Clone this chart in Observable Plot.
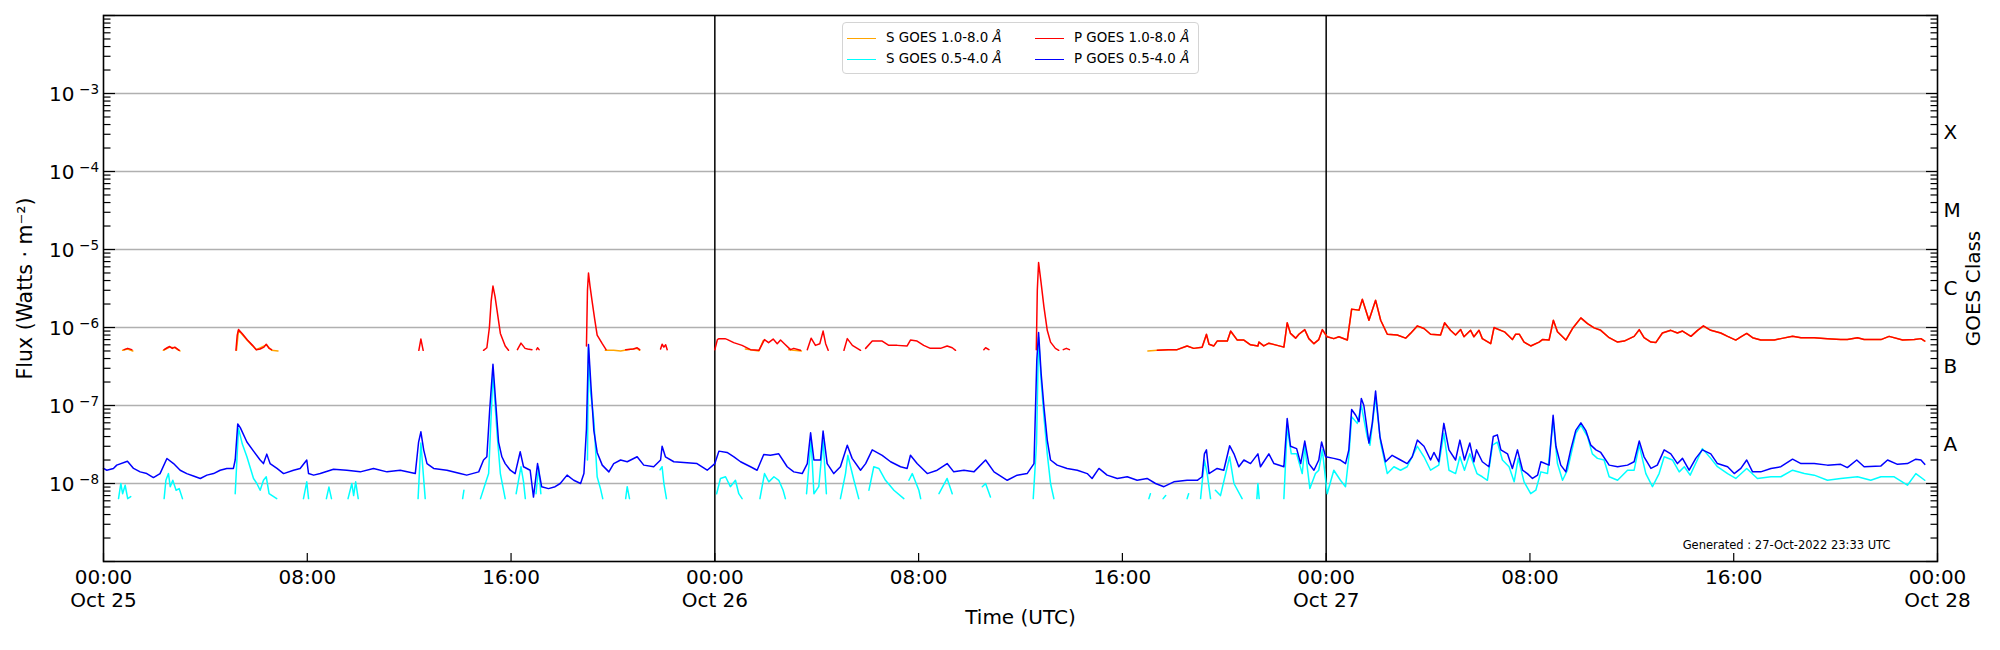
<!DOCTYPE html>
<html>
<head>
<meta charset="utf-8">
<script src="https://cdn.jsdelivr.net/npm/d3@7"></script>
<script src="https://cdn.jsdelivr.net/npm/@observablehq/plot@0.6"></script>
<style>
  body { margin: 0; background: #fff; }
  #wrap { position: relative; width: 2000px; height: 650px; font-family: "DejaVu Sans", sans-serif; }
  #legend { position: absolute; left: 842px; top: 22px; width: 357px; height: 52px; box-sizing: border-box;
            border: 1px solid #d4d4d4; border-radius: 4px; background: rgba(255,255,255,0.85); font-size: 13.4px; color: #000; }
  .item { position: absolute; height: 16px; line-height: 16px; white-space: nowrap; }
  .item .sw { position: absolute; left: 0; top: 7.5px; width: 29px; height: 0; border-top: 1.5px solid; }
  .item .lb { position: absolute; left: 39px; top: 0; }
</style>
</head>
<body>
<div id="wrap">
  <div id="chart"></div>
  <div id="legend"></div>
</div>
<script>
// ---------- data (hours after 2022-10-25 00:00 UTC, flux in W m^-2; NaN = data gap) ----------
const pLongH = [0.81,0.95,1.11,1.2, 2.38,2.5,2.6,2.7,2.8,2.97,3.0,
  5.2,5.25,5.3,5.45,5.65,5.85,6.0,6.15,6.3,6.39,6.5,6.6,6.7,
  12.38,12.46,12.55,12.6,
  14.92,15.05,15.15,15.22,15.29,15.37,15.45,15.58,15.77,15.9,16.0,
  16.25,16.39,16.55,16.65,16.82,16.9,17.0,17.04,17.1,17.2,
  18.96,19.0,19.04,19.1,19.18,19.28,19.38,19.58,19.73,19.8,
  20.5,20.8,20.95,21.05,21.1,
  21.87,21.93,22.0,22.07,22.13,22.2,
  24.0,24.1,24.16,24.4,24.5,24.74,25.07,25.4,25.73,25.95,26.11,26.29,26.45,26.58,26.73,26.97,27.1,27.36,27.5,
  27.63,27.78,27.95,28.12,28.25,28.35,28.45,28.6,
  29.07,29.2,29.4,29.72,29.8,
  29.92,30.18,30.57,30.83,31.16,31.55,31.68,31.94,32.2,32.46,32.86,33.12,33.32,33.45,33.6,
  34.56,34.63,34.76,34.9,
  36.62,36.66,36.71,36.81,36.92,37.05,37.18,37.37,37.5,37.6,37.68,37.8,37.92,38.0,
  41.37,41.8,42.15,42.54,42.8,43.13,43.3,43.4,43.59,43.72,44.12,44.25,44.51,44.77,45.03,45.32,45.36,45.55,45.75,46.08,46.34,
  46.47,46.6,46.8,46.93,47.16,47.32,47.52,47.71,47.85,48.04,48.3,48.5,48.83,49.0,49.29,49.42,49.68,49.94,50.14,50.4,50.79,
  51.12,51.31,51.58,51.84,52.1,52.49,52.65,52.88,53.08,53.28,53.41,53.67,53.8,54.0,54.13,54.46,54.59,54.85,
  55.0,55.31,55.44,55.58,55.77,56.03,56.36,56.49,56.75,56.92,57.08,57.41,57.67,58.0,58.26,58.52,58.78,59.11,59.44,59.7,
  60.09,60.29,60.48,60.75,60.94,61.2,61.53,61.79,61.99,62.32,62.58,62.81,63.1,63.49,63.76,64.08,64.28,64.51,64.74,65.06,
  65.59,65.85,66.31,66.64,67.16,67.68,68.2,68.46,68.86,69.12,69.78,70.1,70.63,71.09,71.35,71.5];
const pLongF = [5.2e-7,5.4e-7,5.2e-7,NaN, 5.2e-7,5.5e-7,5.7e-7,5.4e-7,5.6e-7,5.1e-7,NaN,
  5.1e-7,8.0e-7,9.4e-7,8.3e-7,6.9e-7,5.9e-7,5.2e-7,5.3e-7,5.6e-7,6.1e-7,5.4e-7,5.2e-7,NaN,
  5.1e-7,7.1e-7,5.1e-7,NaN,
  5.1e-7,5.5e-7,1.0e-6,2.2e-6,3.4e-6,2.5e-6,1.66e-6,8.4e-7,5.8e-7,5.1e-7,NaN,
  5.2e-7,6.3e-7,5.4e-7,5.3e-7,5.2e-7,NaN,5.2e-7,5.5e-7,5.2e-7,NaN,
  5.8e-7,3.0e-6,5.0e-6,3.4e-6,2.2e-6,1.3e-6,8.0e-7,6.2e-7,5.2e-7,NaN,
  5.2e-7,5.3e-7,5.5e-7,5.2e-7,NaN,
  5.3e-7,6.1e-7,5.6e-7,6.0e-7,5.2e-7,NaN,
  5.2e-7,7.0e-7,7.2e-7,7.2e-7,7.0e-7,6.4e-7,5.9e-7,5.2e-7,5.1e-7,7.0e-7,6.4e-7,7.1e-7,6.2e-7,6.9e-7,6.2e-7,5.2e-7,5.4e-7,5.1e-7,NaN,
  5.2e-7,7.3e-7,5.9e-7,6.2e-7,9.0e-7,6.2e-7,5.1e-7,NaN,
  5.1e-7,7.2e-7,5.9e-7,5.1e-7,NaN,
  5.4e-7,6.7e-7,6.7e-7,5.9e-7,5.9e-7,5.8e-7,6.9e-7,6.7e-7,5.9e-7,5.4e-7,5.4e-7,5.8e-7,5.5e-7,5.1e-7,NaN,
  5.2e-7,5.5e-7,5.2e-7,NaN,
  5.2e-7,3.0e-6,6.8e-6,3.7e-6,1.84e-6,9.2e-7,6.5e-7,5.4e-7,5.1e-7,NaN,5.2e-7,5.4e-7,5.2e-7,NaN,
  5.1e-7,5.2e-7,5.2e-7,5.8e-7,5.4e-7,5.6e-7,8.2e-7,6.1e-7,5.8e-7,6.7e-7,6.7e-7,9.0e-7,6.9e-7,6.9e-7,6.0e-7,5.8e-7,6.5e-7,5.8e-7,6.3e-7,5.9e-7,5.6e-7,
  1.15e-6,8.4e-7,7.3e-7,8.2e-7,9.4e-7,7.2e-7,6.2e-7,7.0e-7,9.4e-7,7.6e-7,7.2e-7,7.6e-7,6.9e-7,1.72e-6,1.67e-6,2.3e-6,1.24e-6,2.24e-6,1.24e-6,8.2e-7,8.0e-7,
  7.3e-7,8.4e-7,1.05e-6,9.7e-7,8.2e-7,8.0e-7,1.15e-6,9.2e-7,8.0e-7,9.4e-7,7.6e-7,9.2e-7,7.6e-7,9.2e-7,7.2e-7,6.2e-7,1.0e-6,9.2e-7,
  8.8e-7,7.0e-7,8.2e-7,8.2e-7,6.5e-7,5.8e-7,6.5e-7,7.0e-7,6.9e-7,1.24e-6,8.8e-7,6.9e-7,9.7e-7,1.33e-6,1.12e-6,9.9e-7,9.2e-7,7.4e-7,6.5e-7,6.7e-7,
  7.7e-7,9.4e-7,7.4e-7,6.5e-7,6.4e-7,8.5e-7,9.2e-7,8.5e-7,9.0e-7,7.7e-7,9.2e-7,1.05e-6,9.2e-7,8.5e-7,7.7e-7,6.9e-7,7.6e-7,8.4e-7,7.4e-7,6.9e-7,
  6.9e-7,7.2e-7,7.7e-7,7.4e-7,7.4e-7,7.2e-7,7.0e-7,7.0e-7,7.4e-7,7.0e-7,7.0e-7,7.7e-7,6.9e-7,7.0e-7,7.2e-7,6.7e-7];

const sLongH = [0.75,0.95,1.15,1.2, 2.35,2.6,2.8,3.0,3.1, 5.22,5.3,5.65,6.0,6.39,6.6,6.85,6.9,
  19.7,20.03,20.3,20.56,20.95,21.05,21.1, 25.2,25.73,25.9,26.0, 26.9,27.4,27.5,
  41.0,41.37,41.8,42.15,42.54,42.8,43.13,43.3,43.4,43.59,43.72,44.12,44.25,44.51,44.77,45.03,45.32,45.36,45.55,45.75,46.08,46.34,
  46.47,46.6,46.8,46.93,47.16,47.32,47.52,47.71,47.85,48.04,48.3,48.5,48.83,49.0,49.29,49.42,49.68,49.94,50.14,50.4,50.79,
  51.12,51.31,51.58,51.84,52.1,52.49,52.65,52.88,53.08,53.28,53.41,53.67,53.8,54.0,54.13,54.46,54.59,54.85,
  55.0,55.31,55.44,55.58,55.77,56.03,56.36,56.49,56.75,56.92,57.08,57.41,57.67,58.0,58.26,58.52,58.78,59.11,59.44,59.7,
  60.09,60.29,60.48,60.75,60.94,61.2,61.53,61.79,61.99,62.32,62.58,62.81,63.1,63.49,63.76,64.08,64.28,64.51,64.74,65.06,
  65.59,65.85,66.31,66.64,67.16,67.68,68.2,68.46,68.86,69.12,69.78,70.1,70.63,71.09,71.35,71.5];
const sLongF = [5.1e-7,5.3e-7,5.0e-7,NaN, 5.1e-7,5.6e-7,5.5e-7,5.0e-7,NaN, 5.1e-7,9.2e-7,6.8e-7,5.2e-7,6.0e-7,5.1e-7,5.0e-7,NaN,
  5.1e-7,5.1e-7,5.0e-7,5.2e-7,5.4e-7,5.1e-7,NaN, 5.3e-7,5.0e-7,6.8e-7,NaN, 5.2e-7,5.0e-7,NaN,
  5.0e-7,5.1e-7,5.2e-7,5.2e-7,5.8e-7,5.4e-7,5.6e-7,8.1e-7,6.1e-7,5.8e-7,6.7e-7,6.7e-7,8.9e-7,6.9e-7,6.9e-7,6.0e-7,5.8e-7,6.5e-7,5.8e-7,6.3e-7,5.9e-7,5.6e-7,
  1.14e-6,8.4e-7,7.3e-7,8.2e-7,9.3e-7,7.2e-7,6.2e-7,7.0e-7,9.3e-7,7.6e-7,7.2e-7,7.6e-7,6.9e-7,1.71e-6,1.66e-6,2.28e-6,1.24e-6,2.22e-6,1.24e-6,8.2e-7,8.0e-7,
  7.3e-7,8.4e-7,1.04e-6,9.7e-7,8.2e-7,8.0e-7,1.14e-6,9.2e-7,8.0e-7,9.4e-7,7.6e-7,9.2e-7,7.6e-7,9.2e-7,7.2e-7,6.2e-7,9.9e-7,9.2e-7,
  8.8e-7,7.0e-7,8.2e-7,8.2e-7,6.5e-7,5.8e-7,6.5e-7,7.0e-7,6.9e-7,1.23e-6,8.8e-7,6.9e-7,9.7e-7,1.32e-6,1.12e-6,9.9e-7,9.2e-7,7.4e-7,6.5e-7,6.7e-7,
  7.7e-7,9.3e-7,7.4e-7,6.5e-7,6.4e-7,8.5e-7,9.2e-7,8.5e-7,9.0e-7,7.7e-7,9.2e-7,1.04e-6,9.2e-7,8.5e-7,7.7e-7,6.9e-7,7.6e-7,8.4e-7,7.4e-7,6.9e-7,
  6.9e-7,7.2e-7,7.7e-7,7.4e-7,7.4e-7,7.2e-7,7.0e-7,7.0e-7,7.4e-7,7.0e-7,7.0e-7,7.7e-7,6.9e-7,7.0e-7,7.2e-7,6.7e-7];

const pShortH = [0,0.13,0.39,0.52,0.94,1.18,1.44,1.7,1.96,2.22,2.49,2.75,3.01,3.27,3.53,3.8,4.06,4.32,4.58,4.84,5.1,5.17,5.27,5.37,
  5.63,5.89,6.15,6.28,6.41,6.54,6.81,7.07,7.46,7.72,7.98,8.05,8.25,8.51,9.03,9.55,10.08,10.6,11.13,11.65,12.24,12.37,12.46,12.57,
  12.7,12.96,13.48,14.0,14.26,14.73,14.92,15.05,15.16,15.29,15.42,15.51,15.64,15.77,15.97,16.16,16.36,16.49,16.75,16.88,17.04,
  17.2,17.47,17.73,17.93,18.2,18.46,18.73,18.86,18.96,19.04,19.14,19.25,19.38,19.58,19.84,20.03,20.3,20.56,20.95,21.21,21.6,
  21.87,21.93,22.06,22.39,22.91,23.3,23.7,24.0,24.16,24.48,24.75,25.01,25.4,25.66,25.92,26.18,26.51,26.84,27.1,27.43,27.63,
  27.76,27.89,28.15,28.25,28.41,28.67,28.93,29.2,29.39,29.72,29.92,30.18,30.57,30.9,31.29,31.55,31.68,31.94,32.34,32.73,33.12,
  33.38,33.78,34.17,34.63,34.96,35.48,35.87,36.26,36.53,36.64,36.71,36.81,36.92,37.05,37.18,37.44,37.83,38.23,38.62,38.81,
  39.08,39.4,39.8,40.19,40.58,40.97,41.3,41.63,42.02,42.54,42.94,43.13,43.22,43.3,43.4,43.72,43.98,44.21,44.38,44.57,44.77,
  45.03,45.32,45.42,45.75,45.95,46.34,46.47,46.6,46.84,47.0,47.16,47.32,47.52,47.71,47.82,47.98,48.3,48.56,48.76,48.89,49.0,
  49.16,49.29,49.38,49.48,49.68,49.81,49.94,50.11,50.33,50.59,50.92,51.18,51.38,51.58,51.84,52.1,52.23,52.42,52.62,52.82,
  53.08,53.25,53.43,53.64,53.8,53.9,54.13,54.39,54.56,54.72,54.86,55.12,55.31,55.51,55.71,55.9,56.1,56.3,56.43,56.75,56.91,
  57.02,57.21,57.41,57.6,57.8,58.0,58.19,58.39,58.59,58.78,59.11,59.44,59.83,60.09,60.29,60.48,60.75,61.0,61.27,61.53,61.79,
  61.99,62.25,62.51,62.77,63.1,63.36,63.76,64.02,64.28,64.51,64.74,65.06,65.46,65.85,66.31,66.64,67.16,67.68,68.2,68.46,
  68.83,69.12,69.78,70.04,70.43,70.82,71.15,71.35,71.5];
const pShortF = [1.56e-8,1.48e-8,1.56e-8,1.72e-8,1.93e-8,1.56e-8,1.41e-8,1.34e-8,1.19e-8,1.34e-8,2.09e-8,1.8e-8,1.48e-8,1.34e-8,1.25e-8,1.16e-8,1.28e-8,1.34e-8,1.48e-8,1.56e-8,1.56e-8,2.0e-8,5.8e-8,5.2e-8,
  3.4e-8,2.6e-8,2.0e-8,1.8e-8,2.38e-8,1.8e-8,1.56e-8,1.34e-8,1.48e-8,1.56e-8,2.0e-8,1.34e-8,1.28e-8,1.34e-8,1.52e-8,1.48e-8,1.41e-8,1.56e-8,1.41e-8,1.48e-8,1.34e-8,3.4e-8,4.6e-8,2.7e-8,
  1.8e-8,1.56e-8,1.48e-8,1.34e-8,1.28e-8,1.41e-8,2.0e-8,2.2e-8,8.7e-8,3.38e-7,8.7e-8,3.4e-8,2.2e-8,1.8e-8,1.48e-8,1.34e-8,2.55e-8,1.64e-8,1.48e-8,6.7e-9,1.8e-8,
  9.1e-9,8.6e-9,9.1e-9,1.0e-8,1.28e-8,1.1e-8,1.0e-8,1.34e-8,5.0e-8,6.05e-7,1.73e-7,4.8e-8,2.5e-8,1.72e-8,1.41e-8,1.8e-8,2.0e-8,1.9e-8,2.2e-8,1.72e-8,1.64e-8,
  2.0e-8,3.0e-8,2.2e-8,1.9e-8,1.85e-8,1.8e-8,1.48e-8,1.8e-8,2.6e-8,2.5e-8,2.2e-8,1.9e-8,1.64e-8,1.48e-8,2.35e-8,2.3e-8,2.4e-8,1.64e-8,1.41e-8,1.34e-8,1.8e-8,
  4.46e-8,2.0e-8,2.0e-8,4.7e-8,1.8e-8,1.34e-8,1.64e-8,3.1e-8,2.1e-8,1.48e-8,1.8e-8,2.7e-8,2.3e-8,1.9e-8,1.64e-8,1.56e-8,2.3e-8,1.8e-8,1.34e-8,1.48e-8,1.8e-8,
  1.41e-8,1.48e-8,1.41e-8,2.0e-8,1.41e-8,1.1e-8,1.28e-8,1.34e-8,1.8e-8,3.8e-7,8.6e-7,2.57e-7,9.6e-8,3.6e-8,2.0e-8,1.72e-8,1.56e-8,1.48e-8,1.34e-8,1.16e-8,
  1.56e-8,1.28e-8,1.16e-8,1.22e-8,1.1e-8,1.16e-8,1.0e-8,9.1e-9,1.05e-8,1.1e-8,1.1e-8,1.22e-8,2.4e-8,2.7e-8,1.34e-8,1.56e-8,1.48e-8,3.05e-8,2.4e-8,1.64e-8,2.0e-8,
  1.8e-8,2.4e-8,1.64e-8,2.4e-8,1.8e-8,1.64e-8,6.8e-8,3.0e-8,2.8e-8,1.8e-8,3.5e-8,1.8e-8,1.48e-8,2.0e-8,3.4e-8,2.2e-8,2.1e-8,2.0e-8,1.8e-8,2.7e-8,8.9e-8,
  7.5e-8,6.2e-8,1.23e-7,1.0e-7,3.3e-8,5.9e-8,1.53e-7,4.0e-8,1.9e-8,2.3e-8,2.0e-8,1.8e-8,2.2e-8,3.6e-8,3.0e-8,2.0e-8,2.5e-8,1.9e-8,5.9e-8,2.7e-8,
  2.0e-8,3.6e-8,2.0e-8,3.3e-8,1.9e-8,2.7e-8,1.9e-8,1.64e-8,4.0e-8,4.2e-8,2.7e-8,2.4e-8,1.56e-8,2.7e-8,1.48e-8,1.34e-8,1.16e-8,1.28e-8,1.9e-8,1.72e-8,7.5e-8,
  3.0e-8,1.72e-8,1.41e-8,2.7e-8,4.8e-8,6.0e-8,4.8e-8,3.1e-8,2.7e-8,2.5e-8,1.72e-8,1.64e-8,1.72e-8,1.9e-8,3.5e-8,2.2e-8,1.56e-8,1.72e-8,2.7e-8,2.4e-8,1.8e-8,
  2.1e-8,1.48e-8,2.1e-8,2.7e-8,2.4e-8,1.8e-8,1.64e-8,1.34e-8,1.56e-8,2.0e-8,1.41e-8,1.41e-8,1.56e-8,1.64e-8,2.05e-8,1.8e-8,1.8e-8,1.72e-8,1.76e-8,1.6e-8,
  2.0e-8,1.64e-8,1.68e-8,2.0e-8,1.76e-8,1.8e-8,2.05e-8,2.0e-8,1.76e-8];

const sShortH = [0.59,0.68,0.75,0.85,0.95,1.07,1.1, 2.38,2.45,2.55,2.62,2.72,2.85,2.97,3.1,3.2,
  5.17,5.3,5.45,5.63,5.89,6.02,6.15,6.28,6.39,6.5,6.8,6.9, 7.85,7.98,8.05,8.1, 8.75,8.85,8.95,9.0,
  9.6,9.75,9.82,9.9,10.0,10.1, 12.35,12.46,12.63,12.7, 14.1,14.15,14.2,
  14.8,14.99,15.12,15.29,15.45,15.58,15.77,15.8, 16.2,16.39,16.49,16.56,16.6, 16.98,17.08,17.17,17.2,
  19.0,19.04,19.12,19.25,19.38,19.51,19.6,19.7, 20.5,20.56,20.65,20.7, 21.85,21.93,22.0,22.1,22.2,
  24.07,24.22,24.42,24.61,24.81,24.94,25.07,25.1, 25.77,25.95,26.12,26.32,26.51,26.68,26.77,26.8,
  27.6,27.78,27.89,28.08,28.25,28.38,28.4, 28.93,29.13,29.22,29.46,29.65,29.7,
  30.05,30.24,30.44,30.7,31.03,31.42,31.5, 31.62,31.75,32.01,32.08,32.1, 32.8,33.12,33.32,33.4,
  34.5,34.63,34.82,34.9, 36.5,36.63,36.71,36.81,36.92,37.05,37.18,37.31,37.4,
  41.04,41.1,41.2, 41.6,41.7,41.8, 42.54,42.6,42.7, 43.07,43.22,43.33,43.46,43.5,
  43.65,43.85,44.21,44.38,44.7,44.75, 45.28,45.32,45.37,45.4,
  46.34,46.47,46.63,46.84,47.06,47.16,47.36,47.58,47.71,47.85,48.04,48.3,48.56,48.76,48.89,49.0,49.22,49.38,49.61,49.72,
  49.94,50.14,50.4,50.66,50.92,51.18,51.58,51.84,52.1,52.42,52.62,52.82,53.08,53.25,53.43,53.64,53.92,54.13,54.33,54.53,
  54.72,54.92,55.18,55.38,55.54,55.77,56.03,56.23,56.43,56.69,56.91,57.08,57.28,57.47,57.8,58.0,58.26,58.45,58.65,58.91,
  59.11,59.44,59.83,60.09,60.29,60.55,60.81,61.07,61.27,61.6,61.86,62.06,62.29,62.57,62.77,63.1,63.36,63.76,64.08,64.51,
  64.93,65.46,65.85,66.31,66.77,67.16,67.68,68.2,68.86,69.38,69.78,70.3,70.82,71.15,71.5];
const sShortF = [6.4e-9,1.0e-8,7.4e-9,9.5e-9,6.4e-9,6.8e-9,NaN, 6.4e-9,1.1e-8,1.34e-8,9.1e-9,1.1e-8,8.2e-9,8.6e-9,6.4e-9,NaN,
  7.4e-9,5.1e-8,3.2e-8,2.2e-8,1.16e-8,1.0e-8,8.2e-9,1.1e-8,1.22e-8,7.4e-9,6.4e-9,NaN, 6.4e-9,1.05e-8,6.4e-9,NaN, 6.4e-9,9.0e-9,6.4e-9,NaN,
  6.4e-9,1.0e-8,7.0e-9,1.05e-8,6.4e-9,NaN, 6.4e-9,3.3e-8,6.4e-9,NaN, 6.4e-9,8.2e-9,NaN,
  6.4e-9,1.0e-8,1.34e-8,2.57e-7,4.4e-8,1.34e-8,6.4e-9,NaN, 7.4e-9,1.64e-8,1.05e-8,6.4e-9,NaN, 7.4e-9,1.64e-8,7.4e-9,NaN,
  2.0e-8,5.5e-7,1.5e-7,6.5e-8,1.22e-8,8.6e-9,6.4e-9,NaN, 6.4e-9,9.1e-9,6.4e-9,NaN, 1.5e-8,1.64e-8,1.0e-8,6.4e-9,NaN,
  7.4e-9,1.16e-8,1.22e-8,9.1e-9,1.1e-8,7.4e-9,6.4e-9,NaN, 6.4e-9,1.34e-8,1.05e-8,1.22e-8,1.1e-8,8.2e-9,6.4e-9,NaN,
  7.4e-9,3.6e-8,7.4e-9,9.1e-9,3.6e-8,7.4e-9,NaN, 6.4e-9,1.34e-8,2.3e-8,1.1e-8,6.4e-9,NaN,
  8.2e-9,1.64e-8,1.56e-8,1.1e-8,8.2e-9,6.4e-9,NaN, 1.1e-8,1.34e-8,8.2e-9,6.4e-9,NaN, 7.4e-9,1.16e-8,7.4e-9,NaN,
  9.1e-9,1.0e-8,6.7e-9,NaN, 6.4e-9,3.3e-8,7.5e-7,2.1e-7,7.2e-8,2.4e-8,1.0e-8,6.4e-9,NaN,
  6.4e-9,7.4e-9,NaN, 6.4e-9,7.0e-9,NaN, 6.4e-9,7.4e-9,NaN, 6.4e-9,2.0e-8,1.34e-8,6.4e-9,NaN,
  8.2e-9,7.0e-9,2.2e-8,1.0e-8,6.4e-9,NaN, 6.4e-9,1.0e-8,6.4e-9,NaN,
  6.4e-9,5.3e-8,2.4e-8,2.4e-8,1.34e-8,3.0e-8,8.6e-9,1.34e-8,1.48e-8,2.7e-8,7.4e-9,1.48e-8,1.1e-8,9.1e-9,2.2e-8,7.2e-8,5.9e-8,1.0e-7,4.0e-8,3.1e-8,
  1.29e-7,3.3e-8,1.34e-8,1.64e-8,1.48e-8,1.64e-8,3.0e-8,2.2e-8,1.48e-8,1.72e-8,4.4e-8,1.48e-8,1.34e-8,2.2e-8,1.48e-8,2.4e-8,1.34e-8,1.22e-8,1.1e-8,3.1e-8,
  3.4e-8,2.0e-8,1.64e-8,1.05e-8,2.1e-8,1.05e-8,7.4e-9,8.2e-9,1.41e-8,1.34e-8,6.5e-8,1.8e-8,1.1e-8,1.48e-8,4.4e-8,5.6e-8,4.0e-8,2.4e-8,2.1e-8,2.0e-8,
  1.22e-8,1.1e-8,1.48e-8,1.48e-8,3.1e-8,1.34e-8,9.1e-9,1.34e-8,2.2e-8,2.0e-8,1.41e-8,1.64e-8,1.28e-8,2.0e-8,2.8e-8,2.1e-8,1.64e-8,1.34e-8,1.16e-8,1.56e-8,
  1.16e-8,1.22e-8,1.22e-8,1.48e-8,1.34e-8,1.28e-8,1.1e-8,1.16e-8,1.22e-8,1.1e-8,1.22e-8,1.22e-8,9.5e-9,1.34e-8,1.1e-8];

// ---------- axes / labels ----------
const xTickHours = [0, 8, 16, 24, 32, 40, 48, 56, 64, 72];
const xTickLabels = ["00:00\nOct 25", "08:00", "16:00", "00:00\nOct 26", "08:00", "16:00", "00:00\nOct 27", "08:00", "16:00", "00:00\nOct 28"];
const dayLineHours = [24, 48];
const yDecades = [1e-9, 1e-8, 1e-7, 1e-6, 1e-5, 1e-4, 1e-3, 1e-2];
const yLabelFlux = [1e-8, 1e-7, 1e-6, 1e-5, 1e-4, 1e-3];
const yLabelBase = "10";
const yLabelExponents = ["\u22128", "\u22127", "\u22126", "\u22125", "\u22124", "\u22123"];
const classFlux = [3.16e-8, 3.16e-7, 3.16e-6, 3.16e-5, 3.16e-4];
const classLabels = ["A", "B", "C", "M", "X"];
const legendNames = ["S GOES 1.0-8.0 ", "S GOES 0.5-4.0 ", "P GOES 1.0-8.0 ", "P GOES 0.5-4.0 "];
const legendColors = ["#ffa500", "#00ffff", "#ff0000", "#0000ff"];
const generatedText = "Generated : 27-Oct-2022 23:33 UTC";

// ---------- build ----------
const START = Date.UTC(2022, 9, 25);
const hour = h => new Date(START + h * 3600000);
const table = (H, F) => H.map((h, i) => ({t: hour(h), f: F[i]}));
const minorTicks = [];
for (const d of yDecades.slice(0, -1)) for (let m = 2; m <= 9; m++) minorTicks.push(d * m);

const lineOpts = (c) => ({x: "t", y: "f", stroke: c, strokeWidth: 1.5, strokeLinejoin: "round"});
// inward ticks: a normal outward tick shifted inward by its own length
const inTickY = (data, anchor, len) => Plot.axisY(data, {anchor, tickSize: len, dx: anchor === "left" ? len : -len, fill: "none", label: null, strokeWidth: 1.2, stroke: "black"});

const chart = Plot.plot({
  width: 2000, height: 650,
  marginLeft: 103, marginRight: 63, marginTop: 15, marginBottom: 89,
  style: {fontFamily: '"DejaVu Sans", sans-serif', background: "white", color: "black", overflow: "visible"},
  x: {type: "utc", domain: [hour(0), hour(72)]},
  y: {type: "log", domain: [1e-9, 1e-2]},
  marks: [
    Plot.ruleY(yLabelFlux, {stroke: "#b0b0b0", strokeWidth: 1.3}),
    Plot.ruleX(dayLineHours.map(hour), {stroke: "black", strokeWidth: 1.5}),
    Plot.line(table(sLongH, sLongF), lineOpts(legendColors[0])),
    Plot.line(table(sShortH, sShortF), lineOpts(legendColors[1])),
    Plot.line(table(pLongH, pLongF), lineOpts(legendColors[2])),
    Plot.line(table(pShortH, pShortF), lineOpts(legendColors[3])),
    inTickY(minorTicks, "left", 7.5),
    inTickY(yDecades, "left", 12),
    inTickY(minorTicks, "right", 7.5),
    inTickY(yDecades, "right", 12),
    Plot.axisX(xTickHours.map(hour), {anchor: "bottom", tickSize: 8, dy: -8, fill: "none", label: null, strokeWidth: 1.2, stroke: "black"}),
    Plot.frame({stroke: "black", strokeWidth: 1.6}),
    Plot.text(yLabelFlux, {y: d => d, text: () => yLabelBase, frameAnchor: "left", textAnchor: "end", dx: -29, dy: 1, fontSize: 20}),
    Plot.text(yLabelExponents, {y: (d, i) => yLabelFlux[i], text: d => d, frameAnchor: "left", textAnchor: "end", dx: -4.5, dy: -4, fontSize: 13.5}),
    Plot.text(classLabels, {y: (d, i) => classFlux[i], text: d => d, frameAnchor: "right", textAnchor: "start", dx: 6, fontSize: 20}),
    Plot.text(xTickLabels, {x: (d, i) => hour(xTickHours[i]), text: d => d, frameAnchor: "bottom", lineAnchor: "top", dy: 6, fontSize: 20, lineHeight: 1.15}),
    Plot.text(["Time (UTC)"], {text: d => d, frameAnchor: "bottom", textAnchor: "middle", dy: 62, fontSize: 20}),
    Plot.text(["Flux (Watts \u00B7 m\u207B\u00B2)"], {text: d => d, frameAnchor: "left", textAnchor: "middle", rotate: -90, dx: -78, fontSize: 20.5}),
    Plot.text(["GOES Class"], {text: d => d, frameAnchor: "right", textAnchor: "middle", rotate: -90, dx: 36, fontSize: 20}),
    Plot.text([generatedText], {text: d => d, frameAnchor: "bottom-right", textAnchor: "end", lineAnchor: "bottom", dx: -47, dy: -13, fontSize: 11.5})
  ]
});
document.getElementById("chart").appendChild(chart);

// legend (inside the plot area, top centre)
const legend = document.getElementById("legend");
const pos = [[4, 7], [4, 28], [192, 7], [192, 28]];
legendNames.forEach((name, i) => {
  const it = document.createElement("div");
  it.className = "item";
  it.style.left = pos[i][0] + "px";
  it.style.top = pos[i][1] + "px";
  it.innerHTML = `<span class="sw" style="border-color:${legendColors[i]}"></span><span class="lb">${name}<i>\u00C5</i></span>`;
  legend.appendChild(it);
});
</script>
</body>
</html>
